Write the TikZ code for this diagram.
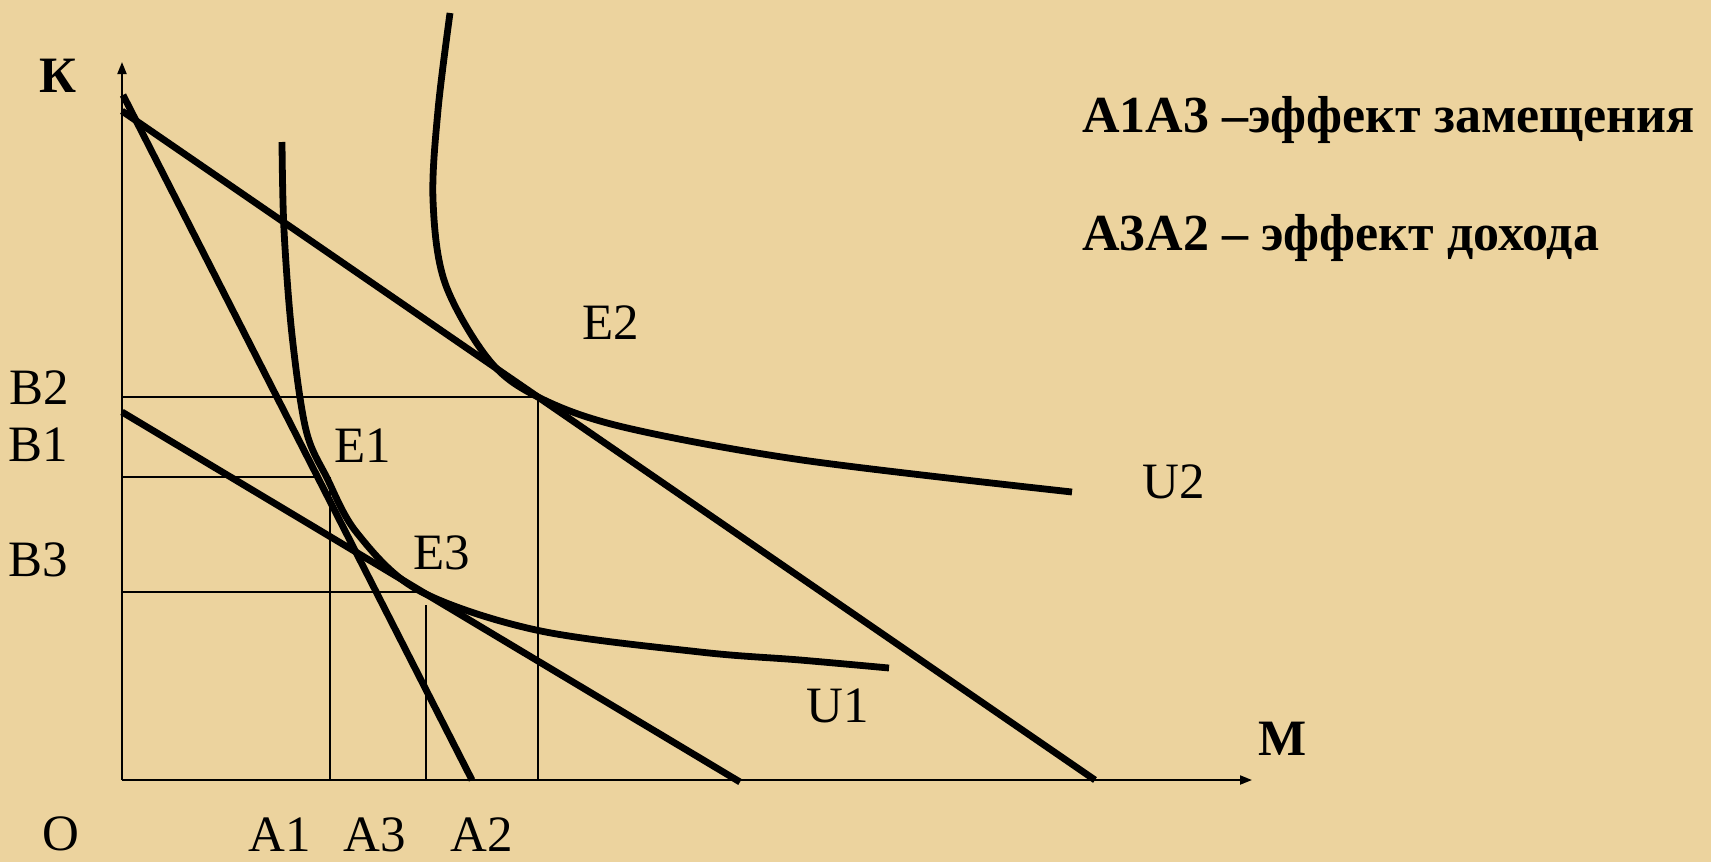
\documentclass[tikz,border=0pt]{standalone}
\usepackage{fontspec}
\setmainfont{Liberation Serif}
\newfontfamily\tnr{Liberation Serif}
\usetikzlibrary{arrows.meta}
\definecolor{parch}{RGB}{236,211,158}
\tikzset{
  thickline/.style={line width=3.4pt, line cap=butt},
  thinline/.style={line width=1pt},
  axisline/.style={line width=1pt, -{Triangle[length=6pt,width=4.5pt]}},
  lbl/.style={font=\tnr\fontsize{25.5}{30}\selectfont, inner sep=0pt},
  blbl/.style={font=\tnr\fontsize{25.5}{30}\selectfont\bfseries, inner sep=0pt},
  tbl/.style={font=\tnr\fontsize{26}{30}\selectfont\bfseries, inner sep=0pt, anchor=base west},
}
\begin{document}
\begin{tikzpicture}[x=0.5pt,y=-0.5pt]
\fill[parch] (0,0) rectangle (1711,862);
\useasboundingbox (0,0) rectangle (1711,862);
% coordinates
\coordinate (O) at (122,780);
\coordinate (Ytop) at (122,62);
\coordinate (Xend) at (1252,780);
% thin guide lines
\draw[thinline] (122,397) -- (538,397) -- (538,780);
\draw[thinline] (122,477) -- (315,477);
\draw[thinline] (330,477) -- (330,780);
\draw[thinline] (122,592) -- (417,592);
\draw[thinline] (426,605) -- (426,780);
% axes
\draw[axisline] (O) -- (Ytop);
\draw[axisline] (O) -- (Xend);
% budget lines
\coordinate (L1a) at (123,95); \coordinate (L1b) at (472,780);
\coordinate (L2a) at (122,111); \coordinate (L2b) at (1095,780);
\coordinate (L3a) at (122,412); \coordinate (L3b) at (740,782);
\draw[thickline] (L1a) -- (L1b);
\draw[thickline] (L2a) -- (L2b);
\draw[thickline] (L3a) -- (L3b);
% indifference curves
\draw[thickline] plot[smooth, tension=0.55] coordinates {(282,142) (284,230) (292,335) (306,430) (327,478) (357,533) (418,590) (536,630) (700,652) (800,660) (889,668)};
\draw[thickline] plot[smooth, tension=0.55] coordinates {(450,13) (438,110) (433,200) (445,283) (489,360) (538,397) (623,427) (802,460) (1072,492)};
% labels
\node[blbl] (K) at (58,76) {К};
\node[blbl] (M) at (1283,739) {М};
\node[lbl] (Olbl) at (61,834) {O};
\node[lbl] (A1) at (280,835) {A1};
\node[lbl] (A3) at (375,835) {A3};
\node[lbl] (A2) at (482,835) {A2};
\node[lbl] (B2) at (39,388) {B2};
\node[lbl] (B1) at (38,445) {B1};
\node[lbl] (B3) at (38,560) {B3};
\node[lbl] (E1) at (363,446) {E1};
\node[lbl] (E3) at (442,553) {E3};
\node[lbl] (E2) at (611,323) {E2};
\node[lbl] (U2) at (1174,482) {U2};
\node[lbl] (U1) at (838,706) {U1};
\node[tbl] (T1) at (1082,132) {A1A3 –эффект замещения};
\node[tbl] (T2) at (1082,250) {A3A2 – эффект дохода};
\end{tikzpicture}
\end{document}
